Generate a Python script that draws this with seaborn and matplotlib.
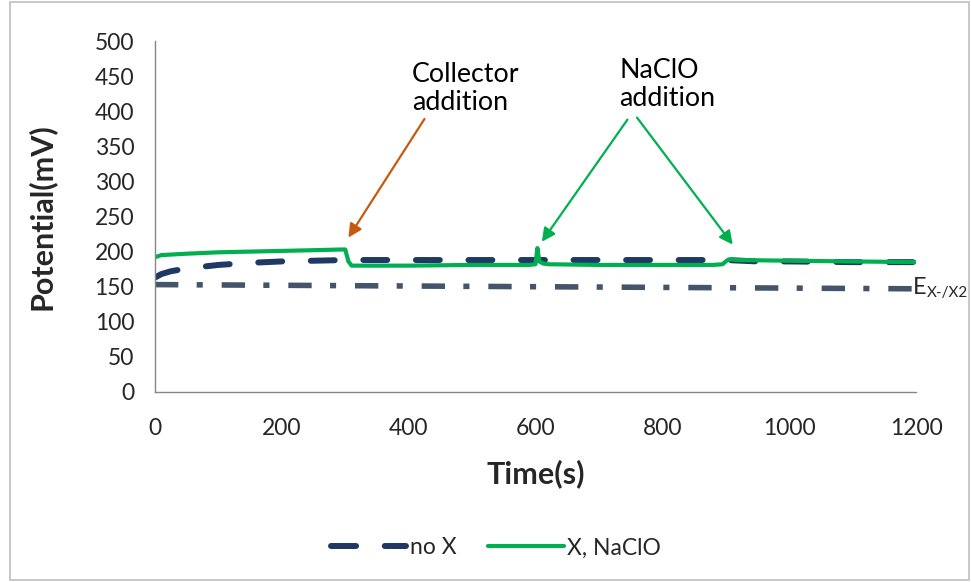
import matplotlib
matplotlib.use("Agg")
import matplotlib.pyplot as plt
import seaborn as sns
import pandas as pd
from matplotlib.patches import Rectangle

# ---- data ----
time_nox = [0, 10, 25, 50, 100, 150, 200, 250, 300, 400, 500, 600, 700, 800, 900, 950, 1000, 1100, 1200]
pot_nox = [163, 168, 172, 176, 181, 184, 186, 187, 188, 188, 188, 188, 188, 188, 188, 186, 186, 185, 185]

time_x = [0, 10, 50, 100, 150, 200, 250, 295, 300, 305, 310, 350, 400, 500, 590, 600, 603, 606, 612,
          620, 700, 800, 880, 895, 900, 905, 920, 1000, 1100, 1200]
pot_x = [192, 195, 197, 199, 200, 201, 202, 203, 203, 186, 180, 180, 180, 181, 181, 182, 205, 186, 183,
         182, 181, 181, 181, 182, 186, 189, 188, 187, 186, 185]

time_ref = [0, 1200]
pot_ref = [153, 147]

x_ticks = [0, 200, 400, 600, 800, 1000, 1200]
y_ticks = [0, 50, 100, 150, 200, 250, 300, 350, 400, 450, 500]

sns.set_style("white")
plt.rcParams['font.family'] = ['Lato', 'DejaVu Sans']

W, H = 971, 582
fig = plt.figure(figsize=(W / 100, H / 100), dpi=100)
L, R, B, T = 155, 916, 392, 41
ax = fig.add_axes([L / W, 1 - B / H, (R - L) / W, (B - T) / H])

df_nox = pd.DataFrame({"t": time_nox, "p": pot_nox})
df_x = pd.DataFrame({"t": time_x, "p": pot_x})
df_ref = pd.DataFrame({"t": time_ref, "p": pot_ref})

sns.lineplot(data=df_ref, x="t", y="p", ax=ax, color="#44546A", lw=4.0,
             estimator=None, sort=False, legend=False)
ax.lines[-1].set_dashes([4.2, 3.3, 1.1, 3.4])
ax.lines[-1].set_dash_capstyle('butt')

sns.lineplot(data=df_nox, x="t", y="p", ax=ax, color="#1F3864", lw=4.3,
             estimator=None, sort=False, label="no X")
ax.lines[-1].set_dashes([4.0, 4.8])
ax.lines[-1].set_dash_capstyle('round')

sns.lineplot(data=df_x, x="t", y="p", ax=ax, color="#00B050", lw=3.0,
             estimator=None, sort=False, label="X, NaClO")

ax.set_xlim(0, 1200)
ax.set_ylim(0, 500)
ax.set_xticks(x_ticks)
ax.set_yticks(y_ticks)
ax.tick_params(axis='both', labelsize=16.5, length=5, width=1,
               direction='out', color='#868686')
ax.tick_params(axis='y', pad=10)
ax.tick_params(axis='x', pad=14)
for t in ax.get_xticklabels() + ax.get_yticklabels():
    t.set_color('#262626')
for s in ['top', 'right']:
    ax.spines[s].set_visible(False)
for s in ['left', 'bottom']:
    ax.spines[s].set_color('#868686')
    ax.spines[s].set_linewidth(1)

ax.set_xlabel("Time(s)", fontsize=22, fontweight='bold', labelpad=14)
ax.set_ylabel("Potential(mV)", fontsize=22, fontweight='bold', labelpad=28)

# annotations
ax.text(405, 432, "Collector\naddition", ha='left', va='center', fontsize=19.3,
        linespacing=1.15, color='black')
ax.text(732, 437.5, "NaClO\naddition", ha='left', va='center', fontsize=19.3,
        linespacing=1.15, color='black')
arrow_kw = dict(arrowstyle='-|>', lw=1.6, mutation_scale=20, shrinkA=0, shrinkB=0)
ax.annotate("", xy=(305, 220), xytext=(425, 389),
            arrowprops=dict(color='#C55A11', **arrow_kw))
ax.annotate("", xy=(610, 214), xytext=(745, 388),
            arrowprops=dict(color='#00B050', **arrow_kw))
ax.annotate("", xy=(911, 210), xytext=(760, 391),
            arrowprops=dict(color='#00B050', **arrow_kw))

ax.annotate("E", xy=(1200, 147), xytext=(-2, 1), textcoords='offset points',
            fontsize=17, ha='left', va='center', annotation_clip=False)
ax.annotate("X-/X2", xy=(1200, 147), xytext=(8, -3), textcoords='offset points',
            fontsize=11, ha='left', va='center', annotation_clip=False)

leg = ax.legend(loc='center', bbox_to_anchor=(496 / W, 1 - 548 / H), bbox_transform=fig.transFigure,
                ncol=2, frameon=False, fontsize=16.5, handlelength=3.3, columnspacing=1.4,
                handletextpad=0.15)
leg_lines = leg.get_lines()
leg_lines[0].set_dashes([4.2, 4.8])
leg_lines[0].set_dash_capstyle('round')

fig.add_artist(Rectangle((10 / W, 2 / H), 1 - 12 / W, 1 - 4 / H, transform=fig.transFigure,
                         fill=False, edgecolor='#BFBFBF', lw=1.2))

fig.savefig("out.png", dpi=100)
